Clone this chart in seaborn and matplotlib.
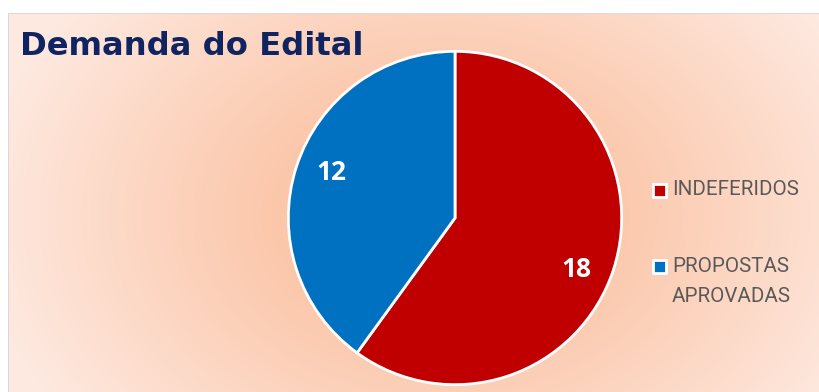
import numpy as np
import matplotlib
matplotlib.use("Agg")
import matplotlib.pyplot as plt
import seaborn as sns
from matplotlib.patches import Rectangle

categories = ["INDEFERIDOS", "PROPOSTAS\nAPROVADAS"]
values = [18, 12]
colors = ["#C00000", "#0070C0"]
title = "Demanda do Edital"

sns.set_theme(style="white")
plt.rcParams["font.family"] = ["Open Sans", "DejaVu Sans"]

W, H = 819, 392
fig = plt.figure(figsize=(W / 100, H / 100), dpi=100)
fig.patch.set_facecolor("white")

# background panel with radial gradient
bg = fig.add_axes([0, 0, 1, 1])
bg.set_xlim(0, W)
bg.set_ylim(H, 0)
bg.axis("off")
yy, xx = np.mgrid[0:H, 0:W]
cx, cy = 440, 215
d = np.sqrt(((xx - cx) / 460.0) ** 2 + ((yy - cy) / 340.0) ** 2)
t = np.clip((d - 0.25) / 0.75, 0, 1) ** 1.1
c0 = np.array([251, 195, 164]) / 255.0
c1 = np.array([254, 233, 224]) / 255.0
img = c0[None, None, :] * (1 - t[..., None]) + c1[None, None, :] * t[..., None]
img[:14, :, :] = 1.0
img[:, :9, :] = 1.0
img[13, 8:, :] = np.array([217, 217, 217]) / 255.0
img[13:, 8, :] = np.array([217, 217, 217]) / 255.0
bg.imshow(img, extent=[0, W, H, 0], interpolation="bilinear", aspect="auto")

# pie
r = 170
pcx, pcy = 455, 218
ax = fig.add_axes([(pcx - r) / W, (H - pcy - r) / H, 2 * r / W, 2 * r / H])
ax.set_facecolor("none")
wedges, texts, autotexts = ax.pie(
    values, colors=colors, startangle=90, counterclock=False,
    wedgeprops=dict(edgecolor="white", linewidth=2),
    autopct=lambda p: f"{int(round(p * sum(values) / 100))}",
    pctdistance=0.79,
    textprops=dict(color="white", fontsize=19, fontweight="bold",
                   family=["Open Sans", "DejaVu Sans"]),
)
# Excel-like label placement (slightly off the slice bisector)
label_angles = [-23, 160]
for txt, a in zip(autotexts, label_angles):
    rr = 0.79
    txt.set_position((rr * np.cos(np.radians(a)), rr * np.sin(np.radians(a))))
ax.set_xlim(-1.02, 1.02)
ax.set_ylim(-1.02, 1.02)
ax.set_aspect("equal")
ax.axis("off")

# title
fig.text(20 / W, 1 - 55 / H, title, fontsize=23.2, fontweight="bold",
         color="#0F2460", ha="left", va="baseline",
         family=["DejaVu Sans"])

# legend
leg_y = [190, 266]
for lab, col, y in zip(categories, colors, leg_y):
    fig.patches.append(Rectangle((653 / W, 1 - (y + 7) / H), 13 / W, 13 / H,
                                 transform=fig.transFigure, facecolor=col,
                                 edgecolor="white", linewidth=2, figure=fig))
    for i, line in enumerate(lab.split("\n")):
        fig.text(672 / W, 1 - (y + 30 * i) / H, line, fontsize=14.8,
                 color="#595959", ha="left", va="center",
                 family=["Roboto", "DejaVu Sans"])

fig.savefig("out.png", dpi=100)
